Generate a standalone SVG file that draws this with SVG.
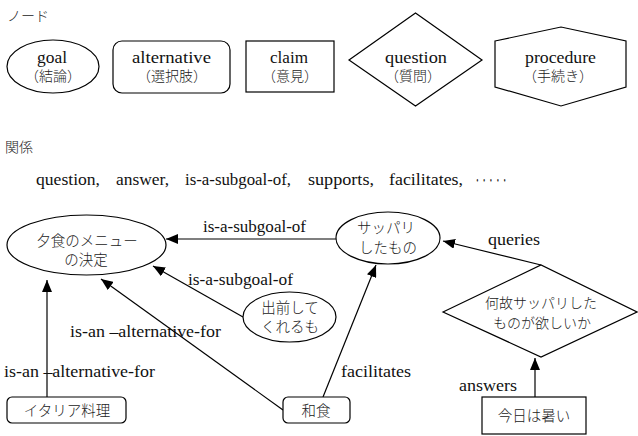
<svg xmlns="http://www.w3.org/2000/svg" width="638" height="436" viewBox="0 0 638 436">
  <style>
    .shape { fill: #fff; stroke: #000; stroke-width: 1.2; }
    .edge { fill: none; stroke: #000; stroke-width: 1.2; }
    .en { font-family: 'Liberation Serif', serif; font-size: 16px; fill: #111; }
    .jp { font-family: 'Noto Sans CJK JP', sans-serif; font-size: 14.5px; font-weight: 300; fill: #222; }
    .jps { font-family: 'Noto Sans CJK JP', sans-serif; font-size: 14px; font-weight: 300; fill: #222; }
    .mid { text-anchor: middle; }
  </style>
  <defs>
    <marker id="arrow" markerUnits="userSpaceOnUse" markerWidth="12" markerHeight="10" refX="12" refY="5" orient="auto">
      <path d="M0,0 L12,5 L0,10 Z" fill="#000"/>
    </marker>
  </defs>
  <rect width="638" height="436" fill="#fff"/>

  <!-- Legend: node kinds -->
  <text class="jps" x="7" y="21">ノード</text>

  <g id="legend-goal">
    <ellipse class="shape" cx="53" cy="66.5" rx="46" ry="26.5"/>
    <text class="en mid" x="52" y="63" textLength="30" lengthAdjust="spacingAndGlyphs">goal</text>
    <text class="jps mid" x="53" y="81">（結論）</text>
  </g>
  <g id="legend-alternative">
    <rect class="shape" x="113" y="41" width="117" height="52" rx="9"/>
    <text class="en mid" x="171.5" y="63" textLength="79" lengthAdjust="spacingAndGlyphs">alternative</text>
    <text class="jps mid" x="172" y="81">（選択肢）</text>
  </g>
  <g id="legend-claim">
    <rect class="shape" x="246" y="41" width="88" height="51"/>
    <text class="en mid" x="289" y="63" textLength="38" lengthAdjust="spacingAndGlyphs">claim</text>
    <text class="jps mid" x="290" y="81">（意見）</text>
  </g>
  <g id="legend-question">
    <polygon class="shape" points="349,60 415.5,13 482,60 415.5,106"/>
    <text class="en mid" x="416" y="63" textLength="62" lengthAdjust="spacingAndGlyphs">question</text>
    <text class="jps mid" x="413" y="81">（質問）</text>
  </g>
  <g id="legend-procedure">
    <polygon class="shape" points="495,41 561,27 626,41 626,87 561,106 495,87"/>
    <text class="en mid" x="560.5" y="63" textLength="71" lengthAdjust="spacingAndGlyphs">procedure</text>
    <text class="jps mid" x="558" y="81">（手続き）</text>
  </g>

  <!-- Legend: relation kinds -->
  <text class="jps" x="5" y="152">関係</text>
  <g id="relation-list">
    <text class="en" x="36" y="185" textLength="64" lengthAdjust="spacingAndGlyphs">question,</text>
    <text class="en" x="116" y="185" textLength="53" lengthAdjust="spacingAndGlyphs">answer,</text>
    <text class="en" x="185" y="185" textLength="106" lengthAdjust="spacingAndGlyphs">is-a-subgoal-of,</text>
    <text class="en" x="308" y="185" textLength="66" lengthAdjust="spacingAndGlyphs">supports,</text>
    <text class="en" x="389" y="185" textLength="74" lengthAdjust="spacingAndGlyphs">facilitates,</text>
    <text class="jps" x="474" y="185" textLength="34" lengthAdjust="spacingAndGlyphs">・・・・・</text>
  </g>

  <!-- Example argument graph: connectors -->
  <g id="connectors">
    <line class="edge" x1="337" y1="239" x2="166" y2="239" marker-end="url(#arrow)"/>
    <line class="edge" x1="243" y1="317" x2="153" y2="266" marker-end="url(#arrow)"/>
    <line class="edge" x1="283" y1="410" x2="101" y2="279" marker-end="url(#arrow)"/>
    <line class="edge" x1="47" y1="397" x2="47" y2="280" marker-end="url(#arrow)"/>
    <line class="edge" x1="323" y1="397" x2="376" y2="265" marker-end="url(#arrow)"/>
    <line class="edge" x1="541" y1="265" x2="443" y2="241" marker-end="url(#arrow)"/>
    <line class="edge" x1="535" y1="397" x2="535" y2="358" marker-end="url(#arrow)"/>

    <text class="en" x="203" y="232" textLength="103" lengthAdjust="spacingAndGlyphs">is-a-subgoal-of</text>
    <text class="en" x="188" y="285" textLength="105" lengthAdjust="spacingAndGlyphs">is-a-subgoal-of</text>
    <text class="en" x="70" y="337" textLength="151" lengthAdjust="spacingAndGlyphs">is-an –alternative-for</text>
    <text class="en" x="4" y="377" textLength="151" lengthAdjust="spacingAndGlyphs">is-an –alternative-for</text>
    <text class="en" x="341" y="377" textLength="70" lengthAdjust="spacingAndGlyphs">facilitates</text>
    <text class="en" x="488" y="245" textLength="52" lengthAdjust="spacingAndGlyphs">queries</text>
    <text class="en" x="459" y="391" textLength="58" lengthAdjust="spacingAndGlyphs">answers</text>
  </g>

  <!-- Example argument graph: nodes -->
  <g id="node-dinner-menu">
    <ellipse class="shape" cx="86.5" cy="245" rx="79.5" ry="30"/>
    <text class="jp mid" x="87" y="246">夕食のメニュー</text>
    <text class="jp mid" x="86" y="265">の決定</text>
  </g>
  <g id="node-light-food">
    <ellipse class="shape" cx="388" cy="238" rx="52" ry="26"/>
    <text class="jp mid" x="386" y="233">サッパリ</text>
    <text class="jp mid" x="388" y="253">したもの</text>
  </g>
  <g id="node-delivery">
    <ellipse class="shape" cx="289.5" cy="317" rx="46.5" ry="25"/>
    <text class="jp mid" x="290" y="313">出前して</text>
    <text class="jp mid" x="290" y="332">くれるも</text>
  </g>
  <g id="node-why-light">
    <polygon class="shape" points="443,312 541,265 637,312 541,357"/>
    <text class="jps mid" x="541" y="308">何故サッパリした</text>
    <text class="jps mid" x="542" y="328">ものが欲しいか</text>
  </g>
  <g id="node-italian">
    <rect class="shape" x="7" y="397" width="119" height="26" rx="5"/>
    <text class="jp mid" x="67" y="416">イタリア料理</text>
  </g>
  <g id="node-japanese">
    <rect class="shape" x="283" y="397" width="67" height="26" rx="5"/>
    <text class="jp mid" x="316" y="416">和食</text>
  </g>
  <g id="node-hot-today">
    <rect class="shape" x="482" y="397" width="104" height="37"/>
    <text class="jp mid" x="534" y="421">今日は暑い</text>
  </g>
</svg>
